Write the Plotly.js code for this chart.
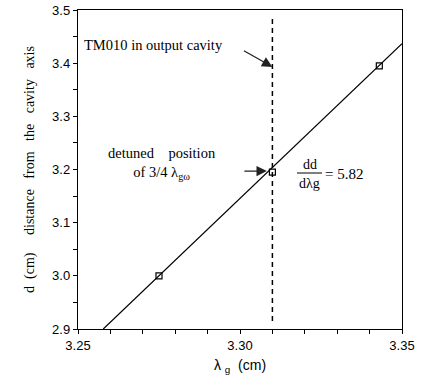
<!DOCTYPE html>
<html><head><meta charset="utf-8">
<script src="https://cdn.plot.ly/plotly-3.0.1.min.js"></script>
<style>html,body{margin:0;padding:0;background:#fff}</style>
</head><body>
<div id="chart" style="width:424px;height:392px"></div>
<script>
// measured points (lambda_g, d)
const ptsX = [3.275, 3.310, 3.343];
const ptsY = [3.000, 3.195, 3.395];
// fitted line, slope dd/dlambda_g = 5.82
const fitX = [3.2578, 3.35];
const fitY = [2.900, 3.4365];
// detuned lambda_g position (dashed)
const detX = [3.31, 3.31];
const detY = [2.915, 3.49];
const xTickVals = [3.25, 3.26, 3.27, 3.28, 3.29, 3.30, 3.31, 3.32, 3.33, 3.34, 3.35];
const xTickText = ['3.25', '', '', '', '', '3.30', '', '', '', '', '3.35'];
const yTickVals = [2.9, 2.95, 3.0, 3.05, 3.1, 3.15, 3.2, 3.25, 3.3, 3.35, 3.4, 3.45, 3.5];
const yTickText = ['2.9', '', '3.0', '', '3.1', '', '3.2', '', '3.3', '', '3.4', '', '3.5'];

const nb = '\u00a0';
const serif = 'Liberation Serif, serif';
const sans = 'Liberation Sans, Arial, sans-serif';

const traces = [
  {x: fitX, y: fitY, mode: 'lines', line: {color: '#000', width: 1.2}, hoverinfo: 'skip'},
  {x: detX, y: detY, mode: 'lines', line: {color: '#000', width: 1.5, dash: '5px,4px'}, hoverinfo: 'skip'},
  {x: ptsX, y: ptsY, mode: 'markers', marker: {symbol: 'square-open', size: 6, color: '#000', line: {width: 1.2, color: '#000'}}}
];

const layout = {
  width: 424, height: 392,
  margin: {l: 78, r: 22, t: 10, b: 63},
  showlegend: false,
  paper_bgcolor: '#fff', plot_bgcolor: '#fff',
  xaxis: {
    range: [3.25, 3.35], tickmode: 'array', tickvals: xTickVals, ticktext: xTickText,
    ticks: 'outside', ticklen: 4, tickcolor: '#000', tickwidth: 1,
    showline: true, linecolor: '#000', linewidth: 1.2, mirror: true,
    showgrid: false, zeroline: false,
    tickfont: {family: sans, size: 13, color: '#000'},
    title: {text: 'λ' + nb + '<sub>g</sub>' + nb + nb + '(cm)', font: {family: sans, size: 14, color: '#000'}, standoff: 8}
  },
  yaxis: {
    range: [2.9, 3.5], tickmode: 'array', tickvals: yTickVals, ticktext: yTickText,
    ticks: 'outside', ticklen: 4, tickcolor: '#000', tickwidth: 1,
    showline: true, linecolor: '#000', linewidth: 1.2, mirror: true,
    showgrid: false, zeroline: false,
    tickfont: {family: sans, size: 13, color: '#000'},
    title: {text: 'd' + nb + nb + '(cm)' + nb + nb + nb + nb + nb + 'distance' + nb + nb + nb + 'from' + nb + nb + nb + 'the' + nb + nb + nb + 'cavity' + nb + nb + nb + 'axis',
            font: {family: serif, size: 14, color: '#000'}, standoff: 14}
  },
  shapes: [
    {type: 'line', xref: 'x', yref: 'y', x0: 3.3176, x1: 3.3253, y0: 3.1934, y1: 3.1934, line: {color: '#000', width: 1}}
  ],
  annotations: [
    {x: 3.2512, y: 3.434, xanchor: 'left', yanchor: 'middle', showarrow: false,
     text: 'TM010 in output cavity', font: {family: serif, size: 14.5, color: '#000'}},
    {x: 3.31, y: 3.393, text: '', showarrow: true, arrowhead: 2, arrowsize: 1.6, arrowwidth: 1.3, arrowcolor: '#222', ax: -30, ay: -17},
    {x: 3.2759, y: 3.2122, xanchor: 'center', yanchor: 'middle', showarrow: false,
     text: 'detuned' + nb + nb + nb + nb + 'position<br>of 3/4 λ<sub>gω</sub>', font: {family: serif, size: 14.5, color: '#000'}},
    {x: 3.3083, y: 3.197, text: '', showarrow: true, arrowhead: 2, arrowsize: 1.6, arrowwidth: 1.3, arrowcolor: '#222', ax: -24, ay: 0},
    {x: 3.3215, y: 3.2103, xanchor: 'center', yanchor: 'middle', showarrow: false, text: 'dd', font: {family: serif, size: 14, color: '#000'}},
    {x: 3.3215, y: 3.1746, xanchor: 'center', yanchor: 'middle', showarrow: false, text: 'dλg', font: {family: serif, size: 14, color: '#000'}},
    {x: 3.3257, y: 3.192, xanchor: 'left', yanchor: 'middle', showarrow: false, text: '= 5.82', font: {family: serif, size: 15, color: '#000'}}
  ]
};

Plotly.newPlot('chart', traces, layout, {staticPlot: true, displayModeBar: false});
</script>
</body></html>
